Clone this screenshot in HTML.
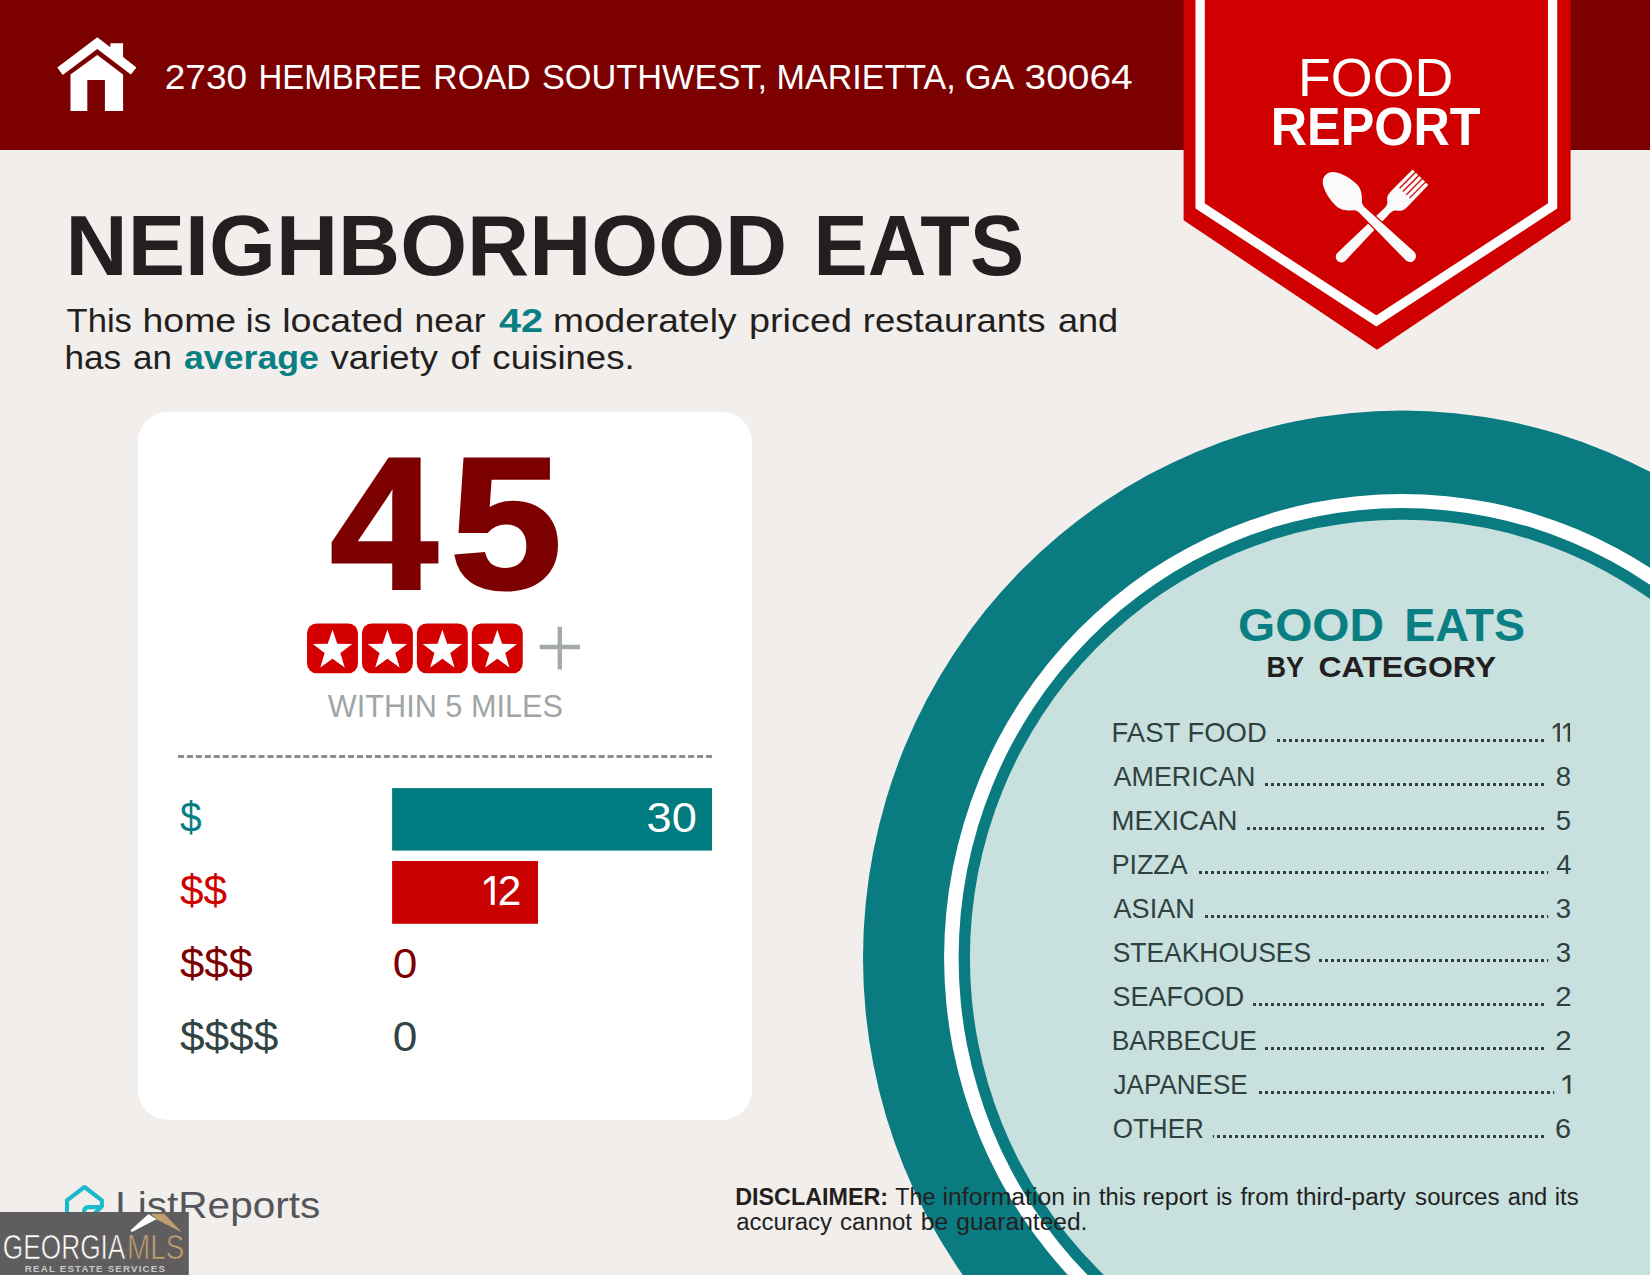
<!DOCTYPE html>
<html lang="en"><head><meta charset="utf-8"><title>Food Report</title>
<style>
html,body{margin:0;padding:0;background:#f2eeeb;}
body{width:1650px;height:1275px;overflow:hidden;font-family:"Liberation Sans", sans-serif;}
svg{display:block;position:absolute;left:0;top:0;}
svg text{font-family:"Liberation Sans", sans-serif;white-space:pre;}
</style></head><body>
<svg width="1650" height="1275" viewBox="0 0 1650 1275">
<defs><clipPath id="k1"><rect x="483.20" y="873.00" width="11.65" height="32.00"/><rect x="498.90" y="863.00" width="22.20" height="42.50"/></clipPath><clipPath id="k2"><rect x="1551.90" y="719.70" width="8.15" height="22.10"/><rect x="1562.00" y="719.70" width="8.25" height="22.10"/></clipPath><clipPath id="k3"><rect x="1561.70" y="1071.70" width="8.95" height="22.10"/></clipPath></defs>
<rect x="0" y="0" width="1650" height="1275" fill="#f2eeeb"/>
<!-- plate -->
<g id="plate">
<ellipse cx="1402" cy="957.8" rx="539" ry="547.3" fill="#0a7b80"/>
<ellipse cx="1402" cy="957.8" rx="457.9" ry="463.9" fill="#ffffff"/>
<ellipse cx="1402" cy="957.8" rx="443.4" ry="449.8" fill="#0a7b80"/>
<ellipse cx="1402" cy="957.8" rx="432.1" ry="438.1" fill="#c8e0de"/>
</g>
<!-- header -->
<rect x="0" y="0" width="1650" height="150" fill="#7d0000"/>
<g id="home" fill="#ffffff">
<path d="M97.3 37.3 L110.4 47.3 L110.4 43.3 L123.1 43.3 L123.1 57 L136.4 67.6 L130.9 74.6 L97.3 49.1 L62.7 74.9 L57.3 67.6 Z"/>
<path d="M97.3 54.9 L123.1 74.5 L123.1 110.9 L104.9 110.9 L104.9 80 L87.3 80 L87.3 110.9 L70.5 110.9 L70.5 74.5 Z"/>
</g>
<!-- banner -->
<g id="banner">
<path d="M1183.6 0 L1570.6 0 L1570.6 220.1 L1377 349.7 L1183.6 220.2 Z" fill="#d10000"/>
<path d="M1200.15 -10 L1200.15 206 L1376.3 321 L1552.6 206 L1552.6 -10" fill="none" stroke="#ffffff" stroke-width="9.3" stroke-linejoin="miter"/>
<g id="utensils" fill="#fafafa">
<g transform="translate(1341.5 256.7) rotate(-45.2)">
<path d="M0 -5.6 C-7.5 -5.6 -7.5 5.6 0 5.6 L62 3.8 C68 3.6 70 4.6 72 7.2 C74 10 76.5 11.6 82 11.6 L112 11.1 L112 -11.1 L82 -11.1 C76.5 -11.1 74 -9.8 72 -7 C70 -4.5 68 -3.6 62 -3.8 Z"/>
<g fill="#d10000">
<rect x="89.5" y="-7.69" width="24" height="1.3"/>
<rect x="89.5" y="-3" width="24" height="1.3"/>
<rect x="89.5" y="1.7" width="24" height="1.3"/>
<rect x="89.5" y="6.39" width="24" height="1.3"/>
</g>
</g>
<g transform="translate(1325.5 175) rotate(43.8)">
<path d="M0 0 C0 -5 3 -8 8 -10.4 C14 -13.5 22 -15 29 -15 C36 -15 41 -10 45 -5.8 C46.5 -4.3 48 -3.9 52 -3.9 L117 -6 C120.3 -6 123 -3.3 123 0 C123 3.3 120.3 6 117 6 L52 3.9 C48 3.9 46.5 4.3 45 5.8 C41 10 36 15 29 15 C22 15 14 13.5 8 10.4 C3 8 0 5 0 0 Z" stroke="#d10000" stroke-width="2.4" paint-order="stroke"/>
</g>
</g>
</g>
<!-- card -->
<rect x="137.7" y="411.9" width="614.4" height="708" rx="30.5" ry="30.5" fill="#ffffff"/>
<g id="stars">
<rect x="307.05" y="623.4" width="50.9" height="49.8" rx="9.6" fill="#d40000"/>
<rect x="361.98" y="623.4" width="50.9" height="49.8" rx="9.6" fill="#d40000"/>
<rect x="416.91" y="623.4" width="50.9" height="49.8" rx="9.6" fill="#d40000"/>
<rect x="471.84" y="623.4" width="50.9" height="49.8" rx="9.6" fill="#d40000"/>
<g fill="#ffffff">
<path d="M0 -20.7 L4.8 -6.7 L19.7 -6.4 L7.9 2.6 L12.2 16.9 L0 8.3 L-12.2 16.9 L-7.9 2.6 L-19.7 -6.4 L-4.8 -6.7 Z" transform="translate(332.50 650.5)"/>
<path d="M0 -20.7 L4.8 -6.7 L19.7 -6.4 L7.9 2.6 L12.2 16.9 L0 8.3 L-12.2 16.9 L-7.9 2.6 L-19.7 -6.4 L-4.8 -6.7 Z" transform="translate(387.43 650.5)"/>
<path d="M0 -20.7 L4.8 -6.7 L19.7 -6.4 L7.9 2.6 L12.2 16.9 L0 8.3 L-12.2 16.9 L-7.9 2.6 L-19.7 -6.4 L-4.8 -6.7 Z" transform="translate(442.36 650.5)"/>
<path d="M0 -20.7 L4.8 -6.7 L19.7 -6.4 L7.9 2.6 L12.2 16.9 L0 8.3 L-12.2 16.9 L-7.9 2.6 L-19.7 -6.4 L-4.8 -6.7 Z" transform="translate(497.29 650.5)"/>
</g>
<path d="M539.8 647 H580 M559.8 626.8 V669.4" stroke="#a3a8a8" stroke-width="4.3" fill="none"/>
</g>
<line x1="178" y1="756.5" x2="712" y2="756.5" stroke="#8e8e8e" stroke-width="3" stroke-dasharray="6 2.95"/>
<rect x="392.1" y="788.1" width="319.9" height="62.5" fill="#007b7f"/>
<rect x="392.1" y="861" width="145.9" height="62.8" fill="#c80000"/>
<!-- dot leaders -->
<g stroke="#2f4040" stroke-width="3" stroke-dasharray="3 3" fill="none">
<line x1="1277" y1="740.6" x2="1544" y2="740.6"/>
<line x1="1265" y1="784.6" x2="1544" y2="784.6"/>
<line x1="1247" y1="828.6" x2="1544" y2="828.6"/>
<line x1="1199" y1="872.6" x2="1548.2" y2="872.6"/>
<line x1="1205" y1="916.6" x2="1548.2" y2="916.6"/>
<line x1="1319" y1="960.6" x2="1548.2" y2="960.6"/>
<line x1="1253" y1="1004.6" x2="1544" y2="1004.6"/>
<line x1="1265" y1="1048.6" x2="1544" y2="1048.6"/>
<line x1="1259" y1="1092.6" x2="1554.2" y2="1092.6"/>
<line x1="1217" y1="1136.6" x2="1544" y2="1136.6"/><line x1="1212.8" y1="1136.6" x2="1214" y2="1136.6" stroke-dasharray="none"/>
</g>
<!-- ListReports icon -->
<g fill="none" stroke="#1ab9cd" stroke-width="4.1" stroke-linejoin="round" stroke-linecap="butt">
<path d="M67 1214 V1200.3 L84.5 1187 L101.9 1200.3 V1206.3 L93.5 1214.5"/>
<path d="M100.5 1207.1 H88.6 Q84.2 1207.1 84.2 1211.6 V1214.5"/>
</g>

<g id="texts">
<text font-size="35.8" fill="#ffffff"><tspan x="164.77" y="89.10" textLength="82.27" lengthAdjust="spacingAndGlyphs">2730</tspan><tspan font-size="1"> </tspan><tspan x="258.56" y="89.10" textLength="162.95" lengthAdjust="spacingAndGlyphs">HEMBREE</tspan><tspan font-size="1"> </tspan><tspan x="433.32" y="89.10" textLength="97.38" lengthAdjust="spacingAndGlyphs">ROAD</tspan><tspan font-size="1"> </tspan><tspan x="541.94" y="89.10" textLength="225.08" lengthAdjust="spacingAndGlyphs">SOUTHWEST,</tspan><tspan font-size="1"> </tspan><tspan x="776.60" y="89.10" textLength="179.00" lengthAdjust="spacingAndGlyphs">MARIETTA,</tspan><tspan font-size="1"> </tspan><tspan x="964.64" y="89.10" textLength="49.64" lengthAdjust="spacingAndGlyphs">GA</tspan><tspan font-size="1"> </tspan><tspan x="1024.62" y="89.10" textLength="107.97" lengthAdjust="spacingAndGlyphs">30064</tspan></text>
<text x="1297.98" y="95.50" font-size="53.6" fill="#ffffff" textLength="155.43" lengthAdjust="spacingAndGlyphs">FOOD</text>
<text x="1270.77" y="144.80" font-size="53.4" fill="#ffffff" font-weight="bold" textLength="209.76" lengthAdjust="spacingAndGlyphs">REPORT</text>
<text font-size="85.5" fill="#231f20" font-weight="bold"><tspan x="65.57" y="274.80" textLength="721.69" lengthAdjust="spacingAndGlyphs">NEIGHBORHOOD</tspan><tspan font-size="1"> </tspan><tspan x="813.55" y="274.80" textLength="210.52" lengthAdjust="spacingAndGlyphs">EATS</tspan></text>
<text font-size="32.8"><tspan x="66.60" y="332.30" fill="#231f20" textLength="65.32" lengthAdjust="spacingAndGlyphs">This</tspan><tspan font-size="1"> </tspan><tspan x="142.52" y="332.30" fill="#231f20" textLength="93.60" lengthAdjust="spacingAndGlyphs">home</tspan><tspan font-size="1"> </tspan><tspan x="245.87" y="332.30" fill="#231f20" textLength="25.26" lengthAdjust="spacingAndGlyphs">is</tspan><tspan font-size="1"> </tspan><tspan x="282.21" y="332.30" fill="#231f20" textLength="121.32" lengthAdjust="spacingAndGlyphs">located</tspan><tspan font-size="1"> </tspan><tspan x="414.64" y="332.30" fill="#231f20" textLength="70.87" lengthAdjust="spacingAndGlyphs">near</tspan><tspan font-size="1"> </tspan><tspan x="498.90" y="332.30" fill="#0a7f83" font-weight="bold" textLength="44.00" lengthAdjust="spacingAndGlyphs">42</tspan><tspan font-size="1"> </tspan><tspan x="553.04" y="332.30" fill="#231f20" textLength="183.48" lengthAdjust="spacingAndGlyphs">moderately</tspan><tspan font-size="1"> </tspan><tspan x="749.00" y="332.30" fill="#231f20" textLength="102.93" lengthAdjust="spacingAndGlyphs">priced</tspan><tspan font-size="1"> </tspan><tspan x="862.87" y="332.30" fill="#231f20" textLength="182.57" lengthAdjust="spacingAndGlyphs">restaurants</tspan><tspan font-size="1"> </tspan><tspan x="1057.90" y="332.30" fill="#231f20" textLength="60.27" lengthAdjust="spacingAndGlyphs">and</tspan></text>
<text font-size="32.8"><tspan x="64.45" y="369.40" fill="#231f20" textLength="56.78" lengthAdjust="spacingAndGlyphs">has</tspan><tspan font-size="1"> </tspan><tspan x="133.03" y="369.40" fill="#231f20" textLength="38.89" lengthAdjust="spacingAndGlyphs">an</tspan><tspan font-size="1"> </tspan><tspan x="184.00" y="369.40" fill="#0a7f83" font-weight="bold" textLength="134.86" lengthAdjust="spacingAndGlyphs">average</tspan><tspan font-size="1"> </tspan><tspan x="330.60" y="369.40" fill="#231f20" textLength="107.43" lengthAdjust="spacingAndGlyphs">variety</tspan><tspan font-size="1"> </tspan><tspan x="450.51" y="369.40" fill="#231f20" textLength="29.72" lengthAdjust="spacingAndGlyphs">of</tspan><tspan font-size="1"> </tspan><tspan x="492.39" y="369.40" fill="#231f20" textLength="142.27" lengthAdjust="spacingAndGlyphs">cuisines.</tspan></text>
<text font-size="187.1" fill="#7d0000" font-weight="bold" stroke="#7d0000" stroke-width="3.0"><tspan x="330.23" y="588.20" textLength="107.62" lengthAdjust="spacingAndGlyphs">4</tspan><tspan x="450.12" y="588.20" textLength="112.02" lengthAdjust="spacingAndGlyphs">5</tspan></text>
<text x="327.80" y="717.30" font-size="30.6" fill="#a0a5a5" textLength="235.11" lengthAdjust="spacingAndGlyphs">WITHIN 5 MILES</text>
<text x="179.90" y="832.00" font-size="43" fill="#0a7f83" textLength="21.62" lengthAdjust="spacingAndGlyphs">$</text>
<text x="179.90" y="905.00" font-size="43" fill="#d00000" textLength="47.12" lengthAdjust="spacingAndGlyphs">$$</text>
<text x="179.90" y="978.00" font-size="43" fill="#7d0000" textLength="72.91" lengthAdjust="spacingAndGlyphs">$$$</text>
<text x="179.90" y="1051.00" font-size="43" fill="#334444" textLength="98.41" lengthAdjust="spacingAndGlyphs">$$$$</text>
<text x="646.62" y="832.00" font-size="42" fill="#ffffff" textLength="50.24" lengthAdjust="spacingAndGlyphs">30</text>
<text fill="#ffffff" clip-path="url(#k1)"><tspan x="480.02" y="909.23" font-size="47.29" textLength="24.19" lengthAdjust="spacingAndGlyphs">1</tspan><tspan x="497.88" y="905.00" font-size="42" textLength="23.59" lengthAdjust="spacingAndGlyphs">2</tspan></text>
<text x="392.85" y="978.00" font-size="42" fill="#7d0000" textLength="24.58" lengthAdjust="spacingAndGlyphs">0</text>
<text x="392.85" y="1051.00" font-size="42" fill="#334444" textLength="24.58" lengthAdjust="spacingAndGlyphs">0</text>
<text font-size="46.5" fill="#0a7f83" font-weight="bold"><tspan x="1237.97" y="641.40" textLength="146.15" lengthAdjust="spacingAndGlyphs">GOOD</tspan><tspan font-size="1"> </tspan><tspan x="1404.19" y="641.40" textLength="120.93" lengthAdjust="spacingAndGlyphs">EATS</tspan></text>
<text font-size="29.6" fill="#231f20" font-weight="bold"><tspan x="1266.59" y="677.30" textLength="37.58" lengthAdjust="spacingAndGlyphs">BY</tspan><tspan font-size="1"> </tspan><tspan x="1318.42" y="677.30" textLength="177.70" lengthAdjust="spacingAndGlyphs">CATEGORY</tspan></text>
<text x="1111.62" y="741.80" font-size="27.6" fill="#2f4040" textLength="155.10" lengthAdjust="spacingAndGlyphs">FAST FOOD</text>
<text font-size="31.14" fill="#2f4040" clip-path="url(#k2)"><tspan x="1550.10" y="744.83" textLength="16.20" lengthAdjust="spacingAndGlyphs">1</tspan><tspan x="1560.16" y="744.83" textLength="16.43" lengthAdjust="spacingAndGlyphs">1</tspan></text>
<text x="1113.60" y="785.80" font-size="27.6" fill="#2f4040" textLength="141.88" lengthAdjust="spacingAndGlyphs">AMERICAN</text>
<text x="1555.70" y="785.80" font-size="27.6" fill="#2f4040" textLength="15.35" lengthAdjust="spacingAndGlyphs">8</text>
<text x="1111.60" y="829.80" font-size="27.6" fill="#2f4040" textLength="125.83" lengthAdjust="spacingAndGlyphs">MEXICAN</text>
<text x="1555.70" y="829.80" font-size="27.6" fill="#2f4040" textLength="15.35" lengthAdjust="spacingAndGlyphs">5</text>
<text x="1111.66" y="873.80" font-size="27.6" fill="#2f4040" textLength="75.96" lengthAdjust="spacingAndGlyphs">PIZZA</text>
<text x="1556.20" y="873.80" font-size="27.6" fill="#2f4040" textLength="15.24" lengthAdjust="spacingAndGlyphs">4</text>
<text x="1113.60" y="917.80" font-size="27.6" fill="#2f4040" textLength="81.09" lengthAdjust="spacingAndGlyphs">ASIAN</text>
<text x="1555.70" y="917.80" font-size="27.6" fill="#2f4040" textLength="15.35" lengthAdjust="spacingAndGlyphs">3</text>
<text x="1112.64" y="961.80" font-size="27.6" fill="#2f4040" textLength="198.45" lengthAdjust="spacingAndGlyphs">STEAKHOUSES</text>
<text x="1555.70" y="961.80" font-size="27.6" fill="#2f4040" textLength="15.35" lengthAdjust="spacingAndGlyphs">3</text>
<text x="1112.62" y="1005.80" font-size="27.6" fill="#2f4040" textLength="131.68" lengthAdjust="spacingAndGlyphs">SEAFOOD</text>
<text x="1555.23" y="1005.80" font-size="27.6" fill="#2f4040" textLength="16.41" lengthAdjust="spacingAndGlyphs">2</text>
<text x="1111.69" y="1049.80" font-size="27.6" fill="#2f4040" textLength="145.30" lengthAdjust="spacingAndGlyphs">BARBECUE</text>
<text x="1555.23" y="1049.80" font-size="27.6" fill="#2f4040" textLength="16.41" lengthAdjust="spacingAndGlyphs">2</text>
<text x="1113.60" y="1093.80" font-size="27.6" fill="#2f4040" textLength="134.08" lengthAdjust="spacingAndGlyphs">JAPANESE</text>
<text x="1559.58" y="1096.83" font-size="31.14" fill="#2f4040" clip-path="url(#k3)" textLength="18.02" lengthAdjust="spacingAndGlyphs">1</text>
<text x="1112.66" y="1137.80" font-size="27.6" fill="#2f4040" textLength="91.22" lengthAdjust="spacingAndGlyphs">OTHER</text>
<text x="1554.95" y="1137.80" font-size="27.6" fill="#2f4040" textLength="16.11" lengthAdjust="spacingAndGlyphs">6</text>
<text font-size="23.3" fill="#231f20"><tspan x="735.20" y="1204.60" font-weight="bold" textLength="152.96" lengthAdjust="spacingAndGlyphs">DISCLAIMER:</tspan><tspan font-size="1"> </tspan><tspan x="895.30" y="1204.60" textLength="40.05" lengthAdjust="spacingAndGlyphs">The</tspan><tspan font-size="1"> </tspan><tspan x="942.54" y="1204.60" textLength="122.48" lengthAdjust="spacingAndGlyphs">information</tspan><tspan font-size="1"> </tspan><tspan x="1072.27" y="1204.60" textLength="18.72" lengthAdjust="spacingAndGlyphs">in</tspan><tspan font-size="1"> </tspan><tspan x="1099.00" y="1204.60" textLength="36.86" lengthAdjust="spacingAndGlyphs">this</tspan><tspan font-size="1"> </tspan><tspan x="1142.53" y="1204.60" textLength="65.31" lengthAdjust="spacingAndGlyphs">report</tspan><tspan font-size="1"> </tspan><tspan x="1216.14" y="1204.60" textLength="16.08" lengthAdjust="spacingAndGlyphs">is</tspan><tspan font-size="1"> </tspan><tspan x="1240.40" y="1204.60" textLength="48.46" lengthAdjust="spacingAndGlyphs">from</tspan><tspan font-size="1"> </tspan><tspan x="1296.20" y="1204.60" textLength="109.53" lengthAdjust="spacingAndGlyphs">third-party</tspan><tspan font-size="1"> </tspan><tspan x="1415.10" y="1204.60" textLength="84.37" lengthAdjust="spacingAndGlyphs">sources</tspan><tspan font-size="1"> </tspan><tspan x="1507.70" y="1204.60" textLength="39.57" lengthAdjust="spacingAndGlyphs">and</tspan><tspan font-size="1"> </tspan><tspan x="1554.67" y="1204.60" textLength="24.00" lengthAdjust="spacingAndGlyphs">its</tspan></text>
<text font-size="23.3" fill="#231f20"><tspan x="736.20" y="1229.70" textLength="95.74" lengthAdjust="spacingAndGlyphs">accuracy</tspan><tspan font-size="1"> </tspan><tspan x="840.00" y="1229.70" textLength="71.96" lengthAdjust="spacingAndGlyphs">cannot</tspan><tspan font-size="1"> </tspan><tspan x="920.84" y="1229.70" textLength="27.47" lengthAdjust="spacingAndGlyphs">be</tspan><tspan font-size="1"> </tspan><tspan x="956.30" y="1229.70" textLength="131.15" lengthAdjust="spacingAndGlyphs">guaranteed.</tspan></text>
<text x="115.21" y="1218.30" font-size="37" fill="#53565a" textLength="205.14" lengthAdjust="spacingAndGlyphs">ListReports</text>
</g>
<g id="badge">

<rect x="0" y="1212" width="188.8" height="63" fill="#5f5d5e"/>
<path d="M148.5 1214.1 L156.4 1219.3 L132.1 1231.9 L130.3 1230.5 Z" fill="#ffffff"/>
<path d="M150.9 1213.7 L164.2 1213.7 L181.8 1232.3 L179 1231 L156.4 1219.3 Z" fill="#bf9f6f"/>

<text font-size="34.3" stroke="#5f5d5e" stroke-width="0.7"><tspan x="2.83" y="1258.90" fill="#ffffff" textLength="122.57" lengthAdjust="spacingAndGlyphs">GEORGIA</tspan><tspan x="127.08" y="1258.90" fill="#bf9f6f" textLength="57.23" lengthAdjust="spacingAndGlyphs">MLS</tspan></text>
<text x="24.80" y="1271.70" font-size="9.7" fill="#c9c9c9" font-weight="bold" textLength="140.16" lengthAdjust="spacing">REAL ESTATE SERVICES</text>
</g>
</svg>
</body></html>
